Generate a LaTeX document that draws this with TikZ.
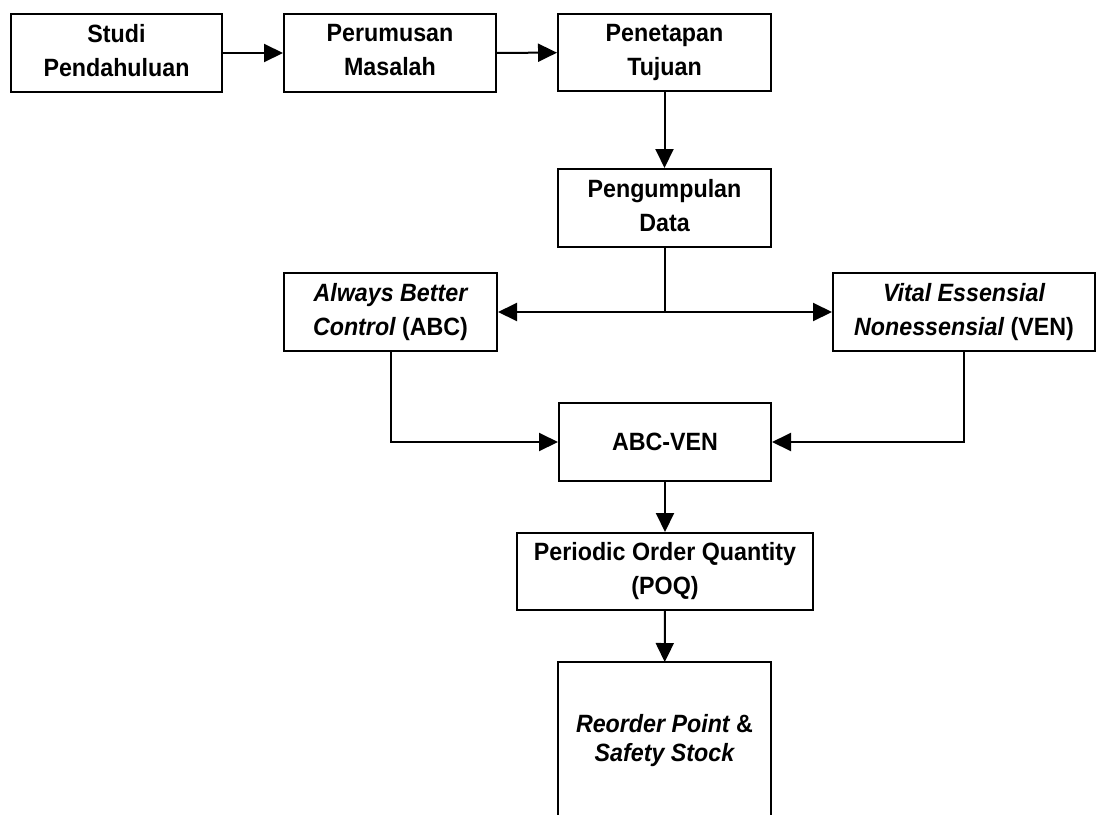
\documentclass[tikz,border=0pt]{standalone}
\usepackage{fontspec}
\setmainfont{Liberation Sans}[FakeStretch=0.93]
\usetikzlibrary{arrows.meta}
\newcommand\boxstrut{\rule[-6pt]{0pt}{41pt}}
\begin{document}
\begin{tikzpicture}[x=1pt,y=-1pt,
  box/.style={draw=black, line width=2pt, fill=white, inner sep=0pt, align=center,
    font=\bfseries\fontsize{25}{34}\selectfont,
    execute at begin node=\boxstrut, execute at end node=\boxstrut},
  boxline/.style={line width=2pt},
  conn/.style={line width=2pt, -{Triangle[length=19pt,width=18pt]}},
  plain/.style={line width=2pt}]
\useasboundingbox (0,0) rectangle (1097,814);
\clip (0,0) rectangle (1097,814);
\fill[white] (0,0) rectangle (1097,814);
\node[box, minimum width=211pt, minimum height=78pt] (studi) at (116.5,53) {Studi\\Pendahuluan};
\node[box, minimum width=212pt, minimum height=78pt] (rumus) at (390,53) {Perumusan\\Masalah};
\node[box, minimum width=213pt, minimum height=77pt] (tujuan) at (664.5,52.5) {Penetapan\\Tujuan};
\node[box, minimum width=213pt, minimum height=78pt] (data) at (664.5,208) {Pengumpulan\\Data};
\node[box, minimum width=213pt, minimum height=78pt] (abc) at (390.5,312) {\itshape Always Better\\\itshape Control \upshape(ABC)};
\node[box, minimum width=262pt, minimum height=78pt] (ven) at (964,312) {\itshape Vital Essensial\\\itshape Nonessensial \upshape(VEN)};
\node[box, minimum width=212pt, minimum height=78pt] (abcven) at (665,442) {\raisebox{6pt}{ABC-VEN}};
\node[box, minimum width=296pt, minimum height=77pt] (poq) at (665,571.5) {Periodic Order Quantity\\(POQ)};
\node[box, draw=none, fill=none, font=\bfseries\fontsize{25}{29}\selectfont, minimum width=211pt, minimum height=156pt] (rop) at (664.5,741) {\itshape Reorder Point \upshape\&\\\itshape Safety Stock};
\draw[boxline] (rop.south west) ++(0,40) |- (rop.north east) -- ++(0,200);
\coordinate (split) at (data.south |- abc.east);
\draw[conn] (studi) -- (rumus);
\draw[conn] (rumus) -- (tujuan);
\draw[conn] (tujuan) -- (data);
\draw[plain] (data.south) -- (split);
\draw[conn] (split) -- (abc.east);
\draw[conn] (split) -- (ven.west);
\draw[conn] (abc.south) |- (abcven.west);
\draw[conn] (ven.south) |- (abcven.east);
\draw[conn] (abcven) -- (poq);
\draw[conn] (poq) -- (rop);
\end{tikzpicture}
\end{document}
